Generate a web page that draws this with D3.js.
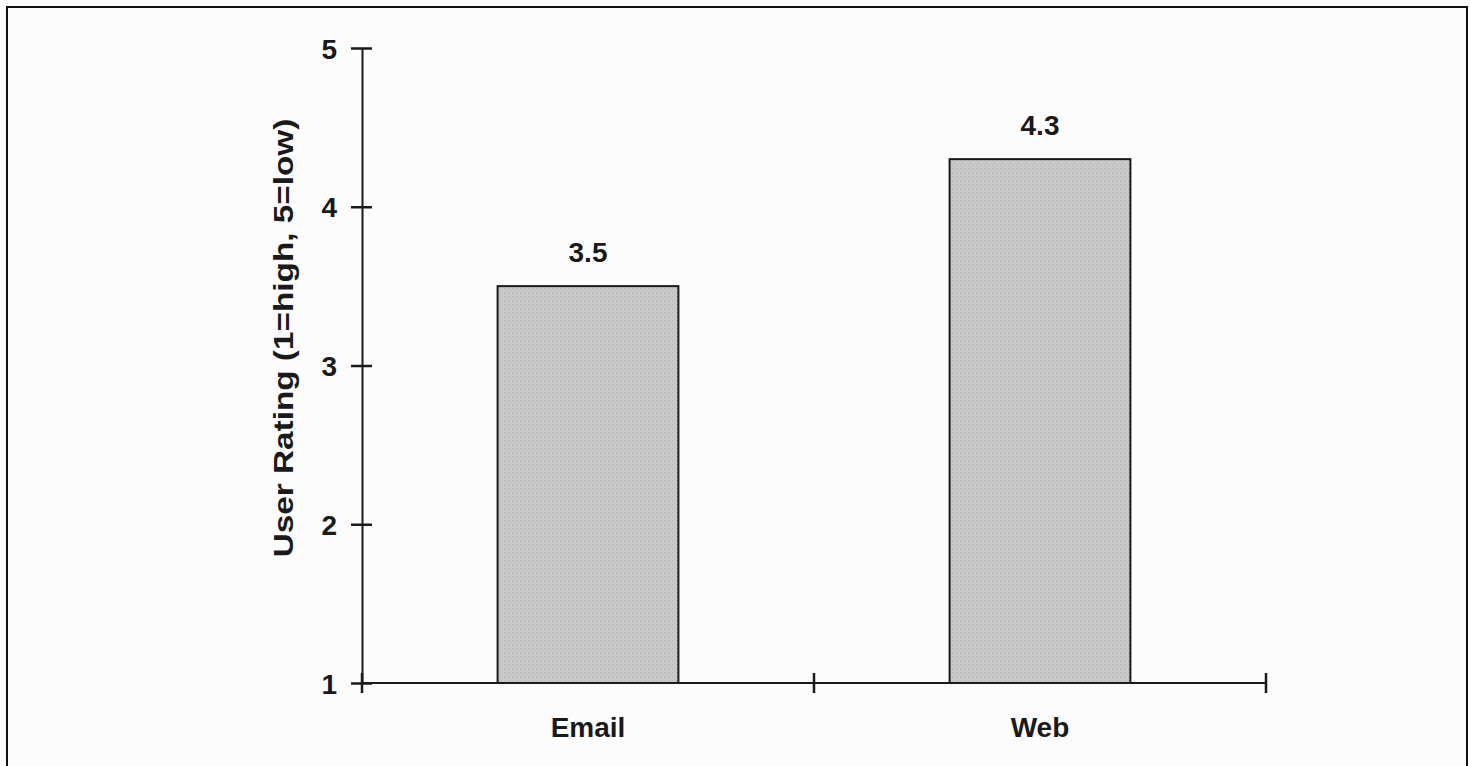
<!DOCTYPE html>
<html>
<head>
<meta charset="utf-8">
<script src="https://cdn.jsdelivr.net/npm/d3@7"></script>
<style>
  html, body { margin: 0; padding: 0; background: #fdfcfc; }
  svg { display: block; }
  text { font-family: "Liberation Sans", Arial, Helvetica, sans-serif; font-weight: bold; fill: #1a1a1a; }
</style>
</head>
<body>
<svg id="chart" width="1471" height="766"></svg>
<script>
const categories = ["Email", "Web"];
const ratings = [3.5, 4.3];
const yTicks = [1, 2, 3, 4, 5];
const yLabel = "User Rating (1=high, 5=low)";

(function () {
const svg = d3.select("#chart");
const mLeft = 362, mRight = 1266, mTop = 48, mBottom = 683;

svg.append("rect").attr("x", 7).attr("y", 7).attr("width", 1460).attr("height", 770)
  .attr("fill", "#fdfcfc").attr("stroke", "#111").attr("stroke-width", 2);

const y = d3.scaleLinear().domain([1, 5]).range([mBottom, mTop]);
const x = d3.scaleBand().domain(categories).range([mLeft, mRight])
  .paddingInner(0.6).paddingOuter(0.3);

// texture pattern for bars
const defs = svg.append("defs");
const pat = defs.append("pattern").attr("id", "tex").attr("patternUnits", "userSpaceOnUse")
  .attr("width", 4).attr("height", 4);
pat.append("rect").attr("width", 4).attr("height", 4).attr("fill", "#c9c9c9");
pat.append("rect").attr("x", 0).attr("y", 0).attr("width", 1).attr("height", 1).attr("fill", "#b0b0b0");
pat.append("rect").attr("x", 2).attr("y", 2).attr("width", 1).attr("height", 1).attr("fill", "#b8b8b8");

// bars
svg.append("g").selectAll("rect").data(categories).join("rect")
  .attr("x", d => x(d))
  .attr("y", (d, i) => y(ratings[i]))
  .attr("width", x.bandwidth())
  .attr("height", (d, i) => y(1) - y(ratings[i]))
  .attr("fill", "url(#tex)")
  .attr("stroke", "#1a1a1a").attr("stroke-width", 2);

// value labels
svg.append("g").selectAll("text").data(categories).join("text")
  .attr("x", d => x(d) + x.bandwidth() / 2)
  .attr("y", (d, i) => y(ratings[i]) - 24)
  .attr("text-anchor", "middle")
  .attr("font-size", 28)
  .text((d, i) => ratings[i].toFixed(1));

// y axis
const yAxis = d3.axisLeft(y).tickValues(yTicks).tickFormat(d3.format("d"))
  .tickSizeInner(11).tickSizeOuter(0).tickPadding(14);
const gy = svg.append("g").attr("transform", `translate(${mLeft},0)`).call(yAxis);
gy.attr("font-family", null).attr("font-size", null);
gy.select(".domain").attr("stroke", "#1a1a1a").attr("stroke-width", 2);
gy.selectAll(".tick line").attr("x1", 10).attr("x2", -11).attr("stroke", "#1a1a1a").attr("stroke-width", 2.5);
gy.selectAll(".tick text").attr("font-size", 28).attr("x", -25).attr("dy", "0.36em").attr("fill", "#1a1a1a");

// x axis line and boundary ticks
const gx = svg.append("g");
gx.append("line").attr("x1", mLeft).attr("x2", mRight).attr("y1", mBottom).attr("y2", mBottom)
  .attr("stroke", "#1a1a1a").attr("stroke-width", 2);
const boundaries = [mLeft, ...categories.slice(1).map(c => x(c) - x.step() * x.paddingInner() / 2), mRight];
gx.selectAll("line.tk").data(boundaries).join("line").attr("class", "tk")
  .attr("x1", d => d).attr("x2", d => d)
  .attr("y1", mBottom - 10).attr("y2", mBottom + 10)
  .attr("stroke", "#1a1a1a").attr("stroke-width", 2.5);
gx.selectAll("text").data(categories).join("text")
  .attr("x", d => x(d) + x.bandwidth() / 2)
  .attr("y", mBottom + 54)
  .attr("text-anchor", "middle")
  .attr("font-size", 28)
  .text(d => d);

// y label (stretched along its length as in the reference)
svg.append("text")
  .attr("transform", `translate(293, 338) rotate(-90) scale(1.19, 1)`)
  .attr("text-anchor", "middle")
  .attr("font-size", 28)
  .text(yLabel);
})();
</script>
</body>
</html>
